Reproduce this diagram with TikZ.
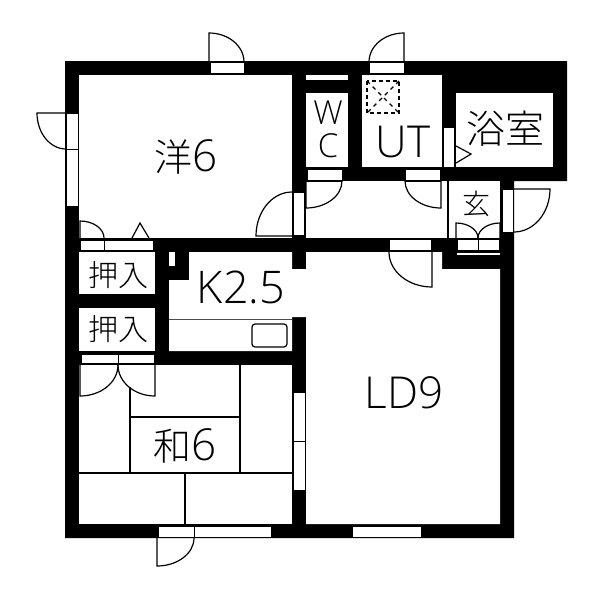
\documentclass[tikz,border=0pt]{standalone}
\usepackage{fontspec}
\setmainfont{Open Sans Light}
\newfontfamily\jpfont{Noto Sans CJK JP Light}
\tikzset{
  wall/.style={fill=black},
  room/.style={fill=white},
  opening/.style={fill=white,draw=black,line width=0.6pt},
  door/.style={draw=black,line width=1.2pt},
  tatami/.style={draw=black,line width=1.3pt},
  label/.style={font=\fontsize{#1}{#1}\selectfont,inner sep=0pt}
}
\begin{document}
\begin{tikzpicture}[x=1pt,y=-1pt,line cap=butt,line join=miter]
\useasboundingbox (0,0) rectangle (600,600);
\fill[white] (0,0) rectangle (600,600);
% walls
\fill[wall] (65,61) -- (567,61) -- (567,181) -- (514,181) -- (514,538) -- (65,538) -- cycle;
% rooms
\fill[room] (79,75) rectangle (292,238);
\fill[room] (306,75) rectangle (348,80);
\fill[room] (306,93) rectangle (348,167);
\fill[room] (362,75) rectangle (442,167);
\fill[room] (456,93) rectangle (553,167);
\fill[room] (306,181) rectangle (500,238);
\fill[room] (79,252) rectangle (155,294);
\fill[room] (79,308) rectangle (155,351);
\fill[room] (79,365) rectangle (292,524);
\fill[room] (169,252) rectangle (175,266);
% K and LD
\fill[room] (189,252) -- (292,252) -- (292,269) -- (306,269) -- (306,252) -- (442,252) -- (442,269) -- (500,269) -- (500,524) -- (306,524) -- (306,317) -- (292,317) -- (292,351) -- (169,351) -- (169,280) -- (189,280) -- cycle;
% windows and door openings
\foreach \xa/\ya/\xb/\yb in {210/62/244/73,369/62/404/73,66/113/78/149,66/149/78/206,293/192/304/235,
  307/169/342/180,405/169/440/180,443/127/454/167,502/189/513/232,80/240/104/250,104/240/153/250,
  389/239/431/250,457/239/478/250,478/239/499/250,456/252/500/255,81/354/118/363,118/354/154/363,
  293/392/305/441,293/441/305/490,158/526/194/537,194/526/271/537,352/526/421/537}
  \draw[opening] (\xa,\ya) rectangle (\xb,\yb);
% doors
\foreach \cx/\cy/\sa/\ea/\rx/\ry in {209/62/-90/0/35/29,66/113/180/90/29/36,404/62/-90/-180/35/29,
  292/236/180/270/36/44,306/181/90/0/36/27,441/181/90/180/36/27,514/189/0/90/36/43,432/252/90/180/43/35,
  456/238/-90/0/22/15,500/238/-90/-180/22/15,80/238/-90/0/24/17,80/365/90/0/38/31,155/365/90/180/37/31,
  157/538/90/0/37/28}
  \draw[door] (\cx,\cy) -- ++(\sa:{\rx} and {\ry}) arc[start angle=\sa,end angle=\ea,x radius=\rx,y radius=\ry];
% corridor and entrance
\draw[door] (448,181) -- (448,238);
\draw[door] (306,181) -- (342,181);
\draw[door] (405,181) -- (441,181);
% triangles
\draw[door] (456,146) -- (471,154) -- (456,163);
\draw[door] (132,238) -- (140,223) -- (149,238);
% shaft
\draw[line width=1.5pt,dash pattern=on 4pt off 3pt] (367,81) rectangle (399,113);
\draw[line width=1.2pt,dash pattern=on 4pt off 4pt] (367,81) -- (399,113);
\draw[line width=1.2pt,dash pattern=on 4pt off 4pt] (399,81) -- (367,113);
% kitchen
\draw[line width=0.8pt,draw=black!70] (169,319) -- (292,319);
\draw[line width=1.2pt,rounded corners=3pt] (252,324) rectangle (287,347);
% tatami
\draw[tatami] (130,387) -- (130,473);
\draw[tatami] (240,365) -- (240,473);
\draw[tatami] (130,417) -- (240,417);
\draw[tatami] (79,473) -- (292,473);
\draw[tatami] (185,473) -- (185,524);
% labels
\node[label=44] (western) at (186,157) {\jpfont\fontsize{38}{38}\selectfont 洋\rmfamily\fontsize{44}{44}\selectfont 6};
\node[label=33] (wcw) at (328,113) {W};
\node[label=33] (wcc) at (328,146) {C};
\node[label=44] (utility) at (403,142) {UT};
\node[label=39] (bath) at (505,129) {\jpfont 浴室};
\node[label=28] (entry) at (476,204) {\jpfont 玄};
\node[label=30] (closeta) at (118,275) {\jpfont 押入};
\node[label=30] (closetb) at (118,329) {\jpfont 押入};
\node[label=45] (kitchen) at (241,287) {K2.5};
\node[label=44] (living) at (404,393) {LD9};
\node[label=44] (japanese) at (185,446) {\jpfont\fontsize{38}{38}\selectfont 和\rmfamily\fontsize{44}{44}\selectfont 6};
\end{tikzpicture}
\end{document}
